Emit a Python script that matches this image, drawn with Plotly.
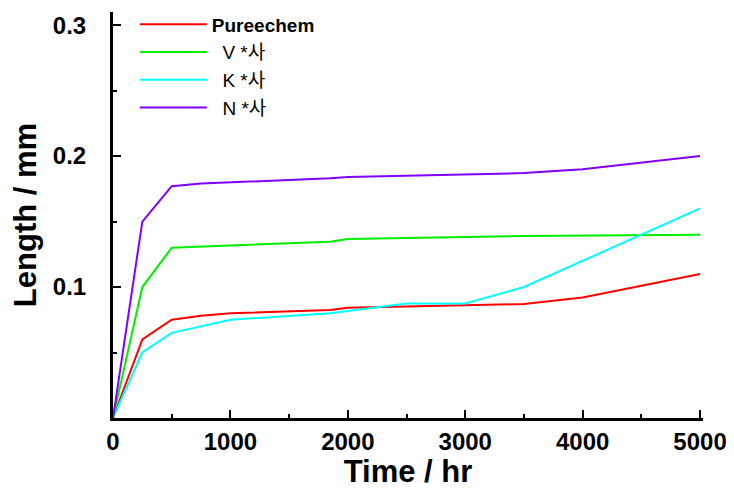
import plotly.graph_objects as go

# Data
series_names = ["<b>Pureechem</b>", "\u00a0\u00a0V *사", "\u00a0\u00a0K *사", "\u00a0\u00a0N *사"]
series_colors = ["#FF0000", "#00EE00", "#00FFFF", "#8000FF"]

pure_x = [0, 250, 500, 750, 1000, 1850, 2000, 3000, 3500, 4000, 5000]
pure_y = [0, 0.060, 0.075, 0.078, 0.080, 0.0825, 0.0842, 0.0857, 0.087, 0.092, 0.110]

v_x = [0, 250, 500, 1850, 2000, 3500, 5000]
v_y = [0, 0.100, 0.130, 0.1346, 0.1366, 0.139, 0.140]

k_x = [0, 250, 500, 1000, 1850, 2500, 3000, 3500, 5000]
k_y = [0, 0.050, 0.065, 0.075, 0.080, 0.0875, 0.0875, 0.100, 0.160]

n_x = [0, 250, 500, 750, 1850, 2000, 3500, 4000, 5000]
n_y = [0, 0.150, 0.177, 0.179, 0.183, 0.184, 0.187, 0.190, 0.200]

x_ticks = [0, 1000, 2000, 3000, 4000, 5000]
y_ticks = [0.1, 0.2, 0.3]

FONT = "Arial, 'Liberation Sans', 'Noto Sans CJK KR', sans-serif"

fig = go.Figure()
for i, (xs, ys) in enumerate([(pure_x, pure_y), (v_x, v_y), (k_x, k_y), (n_x, n_y)]):
    fig.add_trace(go.Scatter(
        x=xs, y=ys, mode="lines", name=series_names[i],
        line=dict(color=series_colors[i], width=2),
    ))

fig.update_layout(
    width=726, height=481,
    margin=dict(l=105, r=31, t=4, b=71, autoexpand=False),
    plot_bgcolor="white", paper_bgcolor="white",
    font=dict(family=FONT, color="black"),
    showlegend=True,
    legend=dict(
        x=0.037, y=1.016, xanchor="left", yanchor="top",
        bgcolor="rgba(0,0,0,0)", borderwidth=0,
        font=dict(size=19, family=FONT, color="black"),
        itemwidth=67,
    ),
    xaxis=dict(
        range=[0, 5025], tickvals=x_ticks, ticktext=[str(v) for v in x_ticks],
        showline=True, linewidth=3, linecolor="black", showgrid=False, zeroline=False,
        ticks="inside", ticklen=8, tickwidth=2, tickcolor="black", automargin=True,
        ticklabelstandoff=0,
        minor=dict(tickmode="linear", tick0=0, dtick=500, ticks="inside", ticklen=4, tickwidth=2, tickcolor="black", showgrid=False),
        tickfont=dict(size=24, family=FONT, color="black", weight="bold"),
        title=dict(text="<b>Time / hr</b>", font=dict(size=31, family=FONT, color="black"), standoff=12),
    ),
    yaxis=dict(
        range=[0, 0.31], tickvals=y_ticks, ticktext=["0.1", "0.2", "0.3"],
        showline=True, linewidth=3, linecolor="black", showgrid=False, zeroline=False,
        ticks="inside", ticklen=8, tickwidth=2, tickcolor="black", automargin=True,
        ticklabelstandoff=19,
        minor=dict(tickmode="linear", tick0=0, dtick=0.05, ticks="inside", ticklen=4, tickwidth=2, tickcolor="black", showgrid=False),
        tickfont=dict(size=24, family=FONT, color="black", weight="bold"),
        title=dict(text="<b>Length / mm</b>", font=dict(size=31, family=FONT, color="black"), standoff=24),
    ),
)

fig.write_html("out.html")
